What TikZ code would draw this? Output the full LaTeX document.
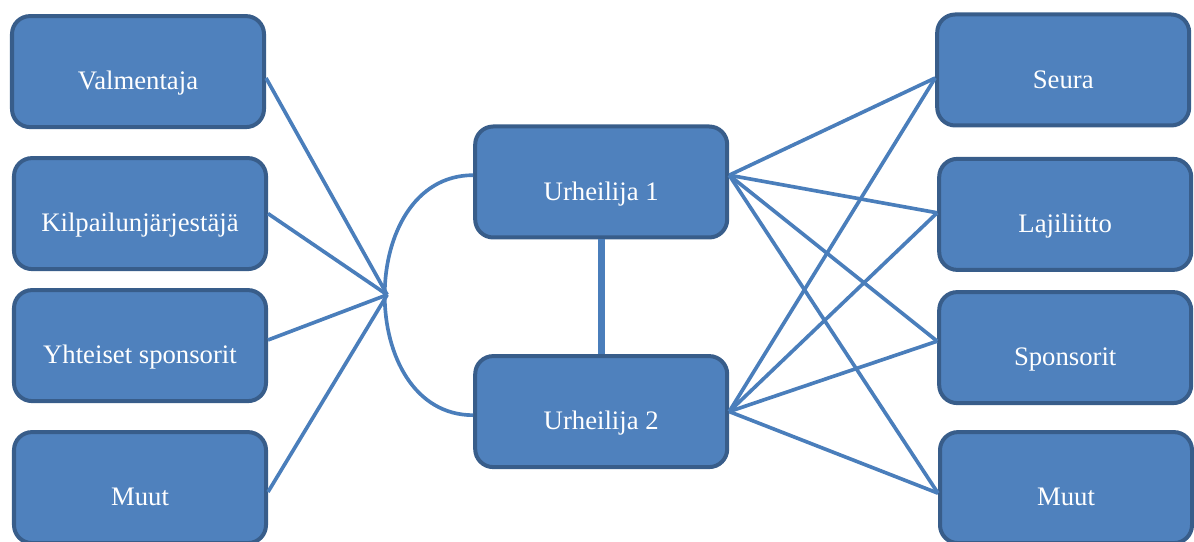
\documentclass[tikz,border=0pt]{standalone}
\usepackage{fontspec}
\setmainfont{Liberation Serif}
\usepackage{xcolor}
\usepackage{tikz}
\usetikzlibrary{positioning}

\definecolor{boxfill}{HTML}{4F81BD}
\definecolor{boxline}{HTML}{385D8A}
\definecolor{linkline}{HTML}{4A7EBB}

\begin{document}
\begin{tikzpicture}[
  actor/.style={rectangle, rounded corners=0.45cm, draw=boxline, line width=0.1cm, fill=boxfill,
    minimum width=6.3cm, minimum height=2.775cm, inner sep=0pt, text=white,
    font=\fontsize{19}{22}\selectfont, text height=0.92cm, text depth=0pt},
  link/.style={draw=linkline, line width=2.6pt},
  bond/.style={draw=linkline, line width=5pt}]
\useasboundingbox (0.00, 0.00) rectangle (29.85, 13.55);
\node[actor] (val) at (3.45, 11.76) {Valmentaja};
\node[actor] (kil) at (3.50, 8.21) {Kilpailunjärjestäjä};
\node[actor] (yht) at (3.50, 4.91) {Yhteiset sponsorit};
\node[actor] (muu1) at (3.50, 1.36) {Muut};
\node[actor] (u1) at (15.03, 9.00) {Urheilija 1};
\node[actor] (u2) at (15.03, 3.26) {Urheilija 2};
\node[actor] (seu) at (26.58, 11.80) {Seura};
\node[actor] (laj) at (26.63, 8.19) {Lajiliitto};
\node[actor] (spo) at (26.63, 4.86) {Sponsorit};
\node[actor] (muu2) at (26.65, 1.36) {Muut};
\coordinate (hub) at (9.68, 6.18);
% attachment points on the box sides
\coordinate (u1l) at ([yshift=0.17cm]u1.west);
\coordinate (u2l) at ([yshift=-0.09cm]u2.west);
\coordinate (u1r) at ([yshift=0.17cm]u1.east);
\coordinate (u2r) at (u2.east);
\coordinate (seul) at ([yshift=-0.2cm]seu.west);
\coordinate (lajl) at ([yshift=0.04cm]laj.west);
\coordinate (spol) at ([yshift=0.16cm]spo.west);
\coordinate (muu2l) at ([yshift=-0.14cm]muu2.west);
% shared ties on the left
\draw[link] (u1l) .. controls +(-2.95, 0) and +(-2.95, 0) .. (u2l);
\draw[link] ([yshift=-0.16cm]val.east) -- (hub);
\draw[link] (kil.east) -- (hub);
\draw[link] ([yshift=0.14cm]yht.east) -- (hub);
\draw[link] ([yshift=-0.11cm]muu1.east) -- (hub);
\draw[bond] (u1.south) -- (u2.north);
% own ties on the right
\draw[link] (u1r) -- (seul);
\draw[link] (u1r) -- (lajl);
\draw[link] (u1r) -- (spol);
\draw[link] (u1r) -- (muu2l);
\draw[link] (u2r) -- (seul);
\draw[link] (u2r) -- (lajl);
\draw[link] (u2r) -- (spol);
\draw[link] (u2r) -- (muu2l);
\end{tikzpicture}
\end{document}
